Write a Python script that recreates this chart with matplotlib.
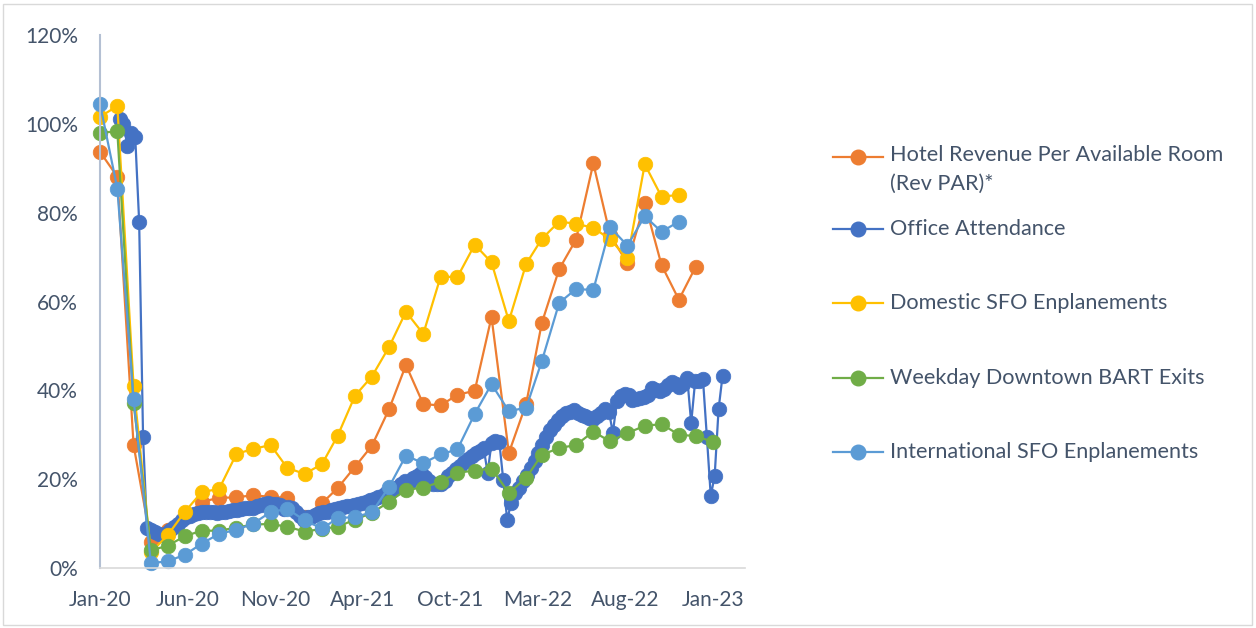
import numpy as np
import pandas as pd
import matplotlib
matplotlib.use("Agg")
import matplotlib.pyplot as plt
from matplotlib.lines import Line2D
from matplotlib.patches import Rectangle

# ---------------- data ----------------
hotel_revpar = [93.7, 88.1, 27.7, 5.9, 8.5, 11.5, 14.9, 15.8, 15.9, 16.4, 16.0, 15.8,
                11.5, 14.6, 18.0, 22.8, 27.5, 35.8, 45.7, 36.9, 36.6, 39.0, 39.9, 56.5,
                25.9, 37.0, 55.2, 67.3, 73.9, 91.1, 75.0, 68.6, 82.2, 68.2, 60.4, 67.8]

domestic_sfo = [101.6, 104.0, 41.0, 3.5, 7.4, 12.7, 17.1, 17.8, 25.7, 26.8, 27.7, 22.5,
                21.2, 23.4, 29.8, 38.8, 43.1, 49.8, 57.7, 52.7, 65.6, 65.5, 72.8, 68.8,
                55.6, 68.5, 74.1, 78.0, 77.5, 76.6, 74.0, 69.7, 90.9, 83.6, 84.0]

bart_exits = [98.0, 98.3, 37.2, 4.0, 5.0, 7.2, 8.4, 8.4, 9.1, 9.8, 9.9, 9.3,
              8.2, 8.8, 9.3, 10.9, 12.4, 14.9, 17.6, 18.1, 19.4, 21.5, 21.9, 22.4,
              16.9, 20.3, 25.5, 27.0, 27.7, 30.7, 28.5, 30.4, 32.0, 32.4, 30.0, 29.7, 28.4]

intl_sfo = [104.5, 85.4, 38.0, 1.1, 1.5, 3.0, 5.5, 7.7, 8.6, 10.0, 12.6, 13.3,
            10.7, 8.9, 11.2, 11.5, 12.5, 18.3, 25.3, 23.6, 25.6, 26.7, 34.7, 41.4,
            35.3, 36.1, 46.6, 59.7, 62.8, 62.6, 76.7, 72.6, 79.2, 75.7, 78.0]

office_attendance = [
    101.0, 100.0, 95.0, 98.0, 97.0, 78.0, 29.5, 9.0, 8.5, 8.0,
    7.6, 7.5, 7.8, 8.5, 9.2, 10.0, 10.8, 11.4, 11.8, 12.1,
    12.3, 12.5, 12.6, 12.5, 12.6, 12.4, 12.6, 12.7, 12.9, 13.0,
    13.1, 13.3, 13.4, 13.5, 13.6, 13.9, 14.1, 14.4, 14.6, 14.5,
    14.4, 14.2, 13.2, 13.8, 13.5, 12.6, 11.6, 10.9, 11.4, 11.5,
    12.0, 12.3, 12.5, 12.7, 13.0, 13.3, 13.5, 13.7, 13.9, 14.0,
    14.2, 14.4, 14.6, 14.9, 15.2, 15.5, 15.9, 16.3, 16.8, 17.2,
    17.7, 18.3, 18.9, 19.5, 19.2, 20.2, 20.8, 21.3, 20.6, 19.5,
    19.0, 18.8, 18.8, 19.5, 20.8, 21.5, 22.3, 23.0, 23.8, 24.5,
    25.2, 25.8, 26.4, 27.0, 21.4, 28.2, 28.6, 28.3, 19.8, 10.8,
    14.6, 16.8, 18.0, 19.5, 21.0, 22.5, 24.2, 26.0, 27.8, 29.5,
    31.0, 32.3, 33.3, 34.2, 34.8, 35.2, 35.5, 35.0, 34.5, 34.3,
    33.8, 33.6, 34.2, 35.0, 35.8, 35.2, 30.4, 37.5, 38.8, 39.2,
    39.0, 37.8, 38.0, 38.3, 38.6, 38.9, 40.5, 40.0, 39.8, 40.3,
    41.2, 41.8, 41.5, 40.8, 41.5, 42.8, 32.6, 42.0, 42.2, 42.6,
    29.6, 16.2, 20.8, 35.8, 43.2]

tick_labels = ["Jan-20", "Jun-20", "Nov-20", "Apr-21", "Oct-21", "Mar-22", "Aug-22", "Jan-23"]

series_names = ["Hotel Revenue Per Available Room\n(Rev PAR)*", "Office Attendance",
                "Domestic SFO Enplanements", "Weekday Downtown BART Exits",
                "International SFO Enplanements"]
colors = ["#ED7D31", "#4472C4", "#FFC000", "#70AD47", "#5B9BD5"]

# ---------------- dates -> day numbers ----------------
origin = pd.Timestamp("2020-01-01")
def days(idx):
    return np.asarray((idx - origin).days, dtype=float)

x_hotel = days(pd.date_range("2020-01-01", periods=len(hotel_revpar), freq="MS"))
x_dom = days(pd.date_range("2020-01-01", periods=len(domestic_sfo), freq="MS"))
x_bart = days(pd.date_range("2020-01-01", periods=len(bart_exits), freq="MS"))
x_intl = days(pd.date_range("2020-01-01", periods=len(intl_sfo), freq="MS"))
x_office = days(pd.date_range("2020-02-05", periods=len(office_attendance), freq="7D"))

plt.rcParams['font.family'] = ['Lato', 'DejaVu Sans']
text_color = "#44546A"

fig = plt.figure(figsize=(12.56, 6.28), dpi=100)
W, H = 1256, 628
x_left, x_right = 100, 745
y_bottom, y_top = 568, 35
ax = fig.add_axes([x_left / W, 1 - y_bottom / H, (x_right - x_left) / W, (y_bottom - y_top) / H])

px_per_day = 613 / 1096.0
ax.set_xlim(0, (x_right - x_left) / px_per_day)
ax.set_ylim(0, 120)

ms = 10.5
lw = 1.6
data = [(x_hotel, hotel_revpar), (x_office, office_attendance), (x_dom, domestic_sfo),
        (x_bart, bart_exits), (x_intl, intl_sfo)]
for (xx, yy), c, name in zip(data, colors, series_names):
    ax.plot(xx, yy, color=c, lw=lw, marker="o", ms=ms, mfc=c, mec=c, mew=0.5,
            clip_on=False, label=name)

ax.set_xticks(np.linspace(0, 1096, len(tick_labels)))
ax.set_xticklabels(tick_labels)
ax.set_yticks(np.arange(0, 121, 20))
ax.set_yticklabels([f"{v}%" for v in range(0, 121, 20)])
ax.tick_params(axis="both", length=0, labelsize=15, colors=text_color)
ax.tick_params(axis="x", pad=16)
ax.tick_params(axis="y", pad=16)

for s in ["top", "right"]:
    ax.spines[s].set_visible(False)
ax.spines["left"].set_color("#B4C0D3")
ax.spines["left"].set_linewidth(1.5)
ax.spines["bottom"].set_color("#D9D9D9")
ax.spines["bottom"].set_linewidth(1.2)

# ---------------- legend (manual placement) ----------------
legend_y = [157, 229, 303, 378, 452]
for name, c, yy in zip(series_names, colors, legend_y):
    fy = 1 - yy / H
    fig.add_artist(Line2D([833 / W, 883 / W], [fy, fy], color=c, lw=lw,
                          transform=fig.transFigure))
    fig.add_artist(Line2D([858 / W], [fy], color=c, marker="o", ms=ms, mec=c,
                          transform=fig.transFigure))
    if "\n" in name:
        fig.text(890 / W, 1 - (157 - 12) / H, name, color=text_color, fontsize=15.6,
                 va="top", ha="left", linespacing=1.55)
    else:
        fig.text(890 / W, fy, name, color=text_color, fontsize=15.6, va="center", ha="left")

fig.add_artist(Rectangle((3 / W, 3 / H), 1 - 7 / W, 1 - 7 / H, transform=fig.transFigure,
                         fill=False, edgecolor="#D9D9D9", lw=1))

fig.savefig("out.png", dpi=100)
